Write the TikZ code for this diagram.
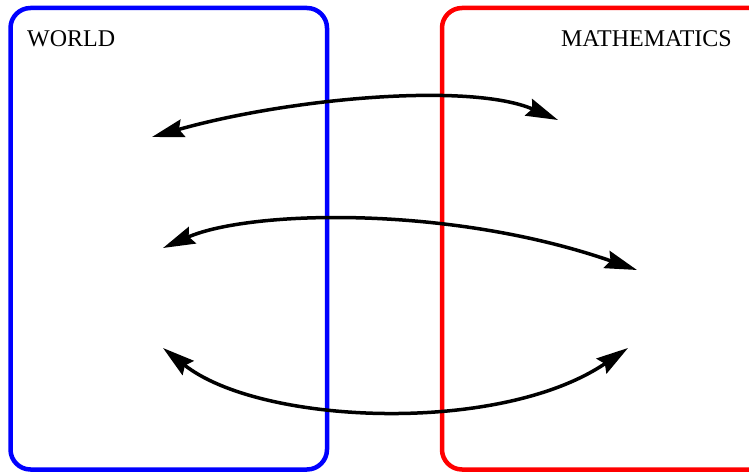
\documentclass[tikz,border=0pt]{standalone}
\usepackage{fontspec}
\setmainfont{Liberation Serif}
\usetikzlibrary{arrows.meta}
\begin{document}
\begin{tikzpicture}[x=1pt,y=-1pt,
  panel/.style={line width=4.5pt,rounded corners=20pt},
  label/.style={inner sep=0pt,font=\fontsize{24}{28}\selectfont},
  link/.style={line width=3.5pt,{Stealth[length=32pt,width=18pt,inset=4pt]}-{Stealth[length=32pt,width=18pt,inset=4pt]}}]
\useasboundingbox (0,0) rectangle (749,473);
\draw[panel,blue] (10.5,8) rectangle (327,469.5);
\draw[panel,red] (442,8) rectangle (775,469.5);
\node[label,anchor=base west] (world) at (27,47) {WORLD};
\node[label,anchor=base east] (math) at (732,47) {MATHEMATICS};
\coordinate (w1) at (152,137);
\coordinate (m1) at (558,120);
\coordinate (w2) at (163,248);
\coordinate (m2) at (637,270);
\coordinate (w3) at (163,348);
\coordinate (m3) at (628,348);
\draw[link] (w1) .. controls (290,98) and (470,82) .. (m1);
\draw[link] (w2) .. controls (250,210) and (450,205) .. (m2);
\draw[link] (w3) .. controls (260,425) and (500,435) .. (m3);
\end{tikzpicture}
\end{document}
